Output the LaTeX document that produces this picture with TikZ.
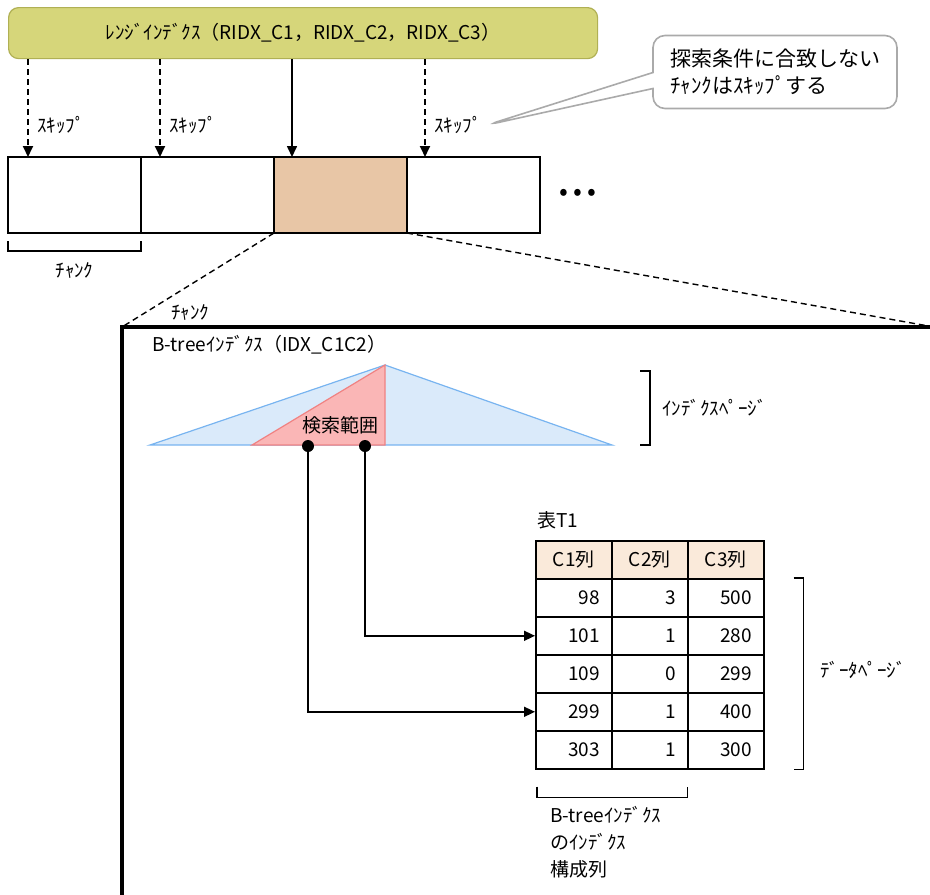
\documentclass[tikz,border=0pt]{standalone}
\usepackage{fontspec}
\setmainfont{Noto Sans CJK JP}
\usetikzlibrary{arrows.meta,positioning,calc,shapes.callouts}

\definecolor{ridxfill}{RGB}{214,214,122}
\definecolor{ridxline}{RGB}{176,176,84}
\definecolor{chunkfill}{RGB}{232,198,166}
\definecolor{hdrfill}{RGB}{250,234,218}
\definecolor{trifill}{RGB}{218,234,250}
\definecolor{triline}{RGB}{120,180,240}
\definecolor{rngfill}{RGB}{250,182,182}
\definecolor{rngline}{RGB}{240,130,130}
\definecolor{calline}{RGB}{170,170,170}

\begin{document}
\begin{tikzpicture}[
  x=1pt, y=-1pt,
  font=\fontsize{19}{27}\selectfont,
  chunk/.style={draw, line width=1.6pt, minimum width=133pt, minimum height=76pt, inner sep=0pt, outer sep=0pt, anchor=north west},
  arr/.style={-{Triangle[length=11pt,width=10pt]}, line width=1.6pt},
  skiparr/.style={arr, line width=1.8pt, dash pattern=on 6pt off 4pt},
  zoomline/.style={line width=1.4pt, dash pattern=on 6pt off 4pt},
  lbl/.style={inner sep=0pt, anchor=west},
  cell/.style={draw, line width=1.6pt, minimum height=38pt, text width=52pt, inner xsep=12pt, inner ysep=0pt, align=right, anchor=north west},
  hcell/.style={cell, fill=hdrfill, align=center},
  brk/.style={line width=1.6pt},
  dot/.style={circle, fill, inner sep=0pt, minimum size=12pt}
]
\useasboundingbox (0,0) rectangle (930,895);

% range index and chunks
\node[draw=ridxline, fill=ridxfill, line width=1.2pt, rounded corners=10pt, minimum width=589pt, minimum height=51pt, anchor=north west] (ridx) at (8,7) {ﾚﾝｼﾞｲﾝﾃﾞｸｽ（RIDX\_C1，RIDX\_C2，RIDX\_C3）};
\node[chunk] (c1) at (8,157) {};
\node[chunk, right=0pt of c1] (c2) {};
\node[chunk, right=0pt of c2, fill=chunkfill] (c3) {};
\node[chunk, right=0pt of c3] (c4) {};
\node[font=\fontsize{26}{26}\selectfont] (more) at (578,195) {•\hspace{5pt}•\hspace{5pt}•};

\coordinate (a1) at ([xshift=20pt]c1.north west);
\coordinate (a2) at ([xshift=19pt]c2.north west);
\coordinate (a3) at ([xshift=18pt]c3.north west);
\coordinate (a4) at ([xshift=18pt]c4.north west);
\draw[skiparr] (a1 |- ridx.south) -- (a1);
\draw[skiparr] (a2 |- ridx.south) -- (a2);
\draw[arr] (a3 |- ridx.south) -- (a3);
\draw[skiparr] (a4 |- ridx.south) -- (a4);
\node[lbl] (skip1) at (37,125) {ｽｷｯﾌﾟ};
\node[lbl] (skip2) at (169,125) {ｽｷｯﾌﾟ};
\node[lbl] (skip3) at (434,125) {ｽｷｯﾌﾟ};

\node[rectangle callout, draw=calline, line width=1.6pt, rounded corners=12pt, fill=white, minimum width=244pt, minimum height=73pt, callout absolute pointer={([xshift=5pt]skip3.east)}, callout pointer width=16pt, align=left, font=\fontsize{21}{27}\selectfont] (note) at (775,72) {探索条件に合致しない\\ﾁｬﾝｸはｽｷｯﾌﾟする};

\draw[brk] ([yshift=-8pt]c1.south west) -- ++(0,10) -| ([yshift=-8pt]c1.south east);
\node (chunklbl) at ([yshift=-37pt]c1.south) {ﾁｬﾝｸ};

% zoomed chunk
\coordinate (fl) at (122,327);
\coordinate (fr) at (934,327);
\draw[zoomline] (c3.south west) -- (fl);
\draw[zoomline] (c3.south east) -- (fr);
\draw[line width=4pt] (fr) -- (fl) -- (122,899);
\node (zoomlbl) at (190,312) {ﾁｬﾝｸ};

\node[lbl] (btree) at (152,345) {B-treeｲﾝﾃﾞｸｽ（IDX\_C1C2）};
\draw[draw=triline, fill=trifill, line width=1.2pt] (150,445) -- (385,365) -- (612,445) -- cycle;
\draw[draw=rngline, fill=rngfill, line width=1.2pt] (252,445) -- (385,365) -- (385,445) -- cycle;
\node (range) at (340,425) {検索範囲};
\node[dot] (p1) at (308,446) {};
\node[dot] (p2) at (365,446) {};

\draw[brk] (640,371) -- (650,371) -- (650,445) -- (640,445);
\node[lbl] (idxpage) at (662,408) {ｲﾝﾃﾞｸｽﾍﾟｰｼﾞ};

% table T1
\node[lbl] (t1) at (537,520) {表T1};
\foreach \h [count=\i] in {C1列,C2列,C3列}
  \node[hcell] (h\i) at ({535+76*(\i-1)},540) {\h};
\foreach \a/\b/\c [count=\r] in {98/3/500,101/1/280,109/0/299,299/1/400,303/1/300} {
  \node[cell] (r\r-1) at (535,{540+38*\r}) {\a};
  \node[cell] (r\r-2) at (611,{540+38*\r}) {\b};
  \node[cell] (r\r-3) at (687,{540+38*\r}) {\c};
}
\draw[arr] (p1) |- (r4-1.west);
\draw[arr] (p2) |- (r2-1.west);

\draw[brk] ([xshift=29pt]r1-3.north east) -- ++(10,0) |- ([xshift=29pt]r5-3.south east);
\node[lbl] (datapage) at (820,670) {ﾃﾞｰﾀﾍﾟｰｼﾞ};

\draw[brk] ([xshift=2pt,yshift=-17pt]r5-1.south west) -- ++(0,11) -| ([xshift=-1pt,yshift=-17pt]r5-2.south east);
\node[anchor=north west, inner sep=0pt, align=left] (cols) at (550,806) {B-treeｲﾝﾃﾞｸｽ\\のｲﾝﾃﾞｸｽ\\構成列};
\end{tikzpicture}
\end{document}
